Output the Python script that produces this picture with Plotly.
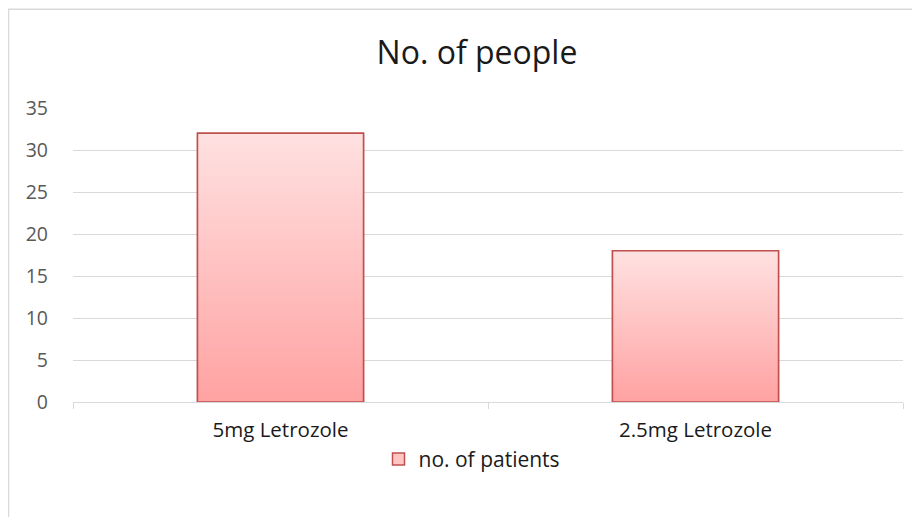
import plotly.graph_objects as go

categories = ["5mg Letrozole", "2.5mg Letrozole"]
values = [32, 18]
series_name = "no. of patients"
title_text = "No. of people"
y_ticks = [0, 5, 10, 15, 20, 25, 30, 35]

BAR_W = 0.4
FONT = "Open Sans"
# page body has an 8px margin; figure coords = page coords - 8
L, R_EDGE, TOP, BOT = 65, 895, 100, 394.5
PW, PH = R_EDGE - L, BOT - TOP

fig = go.Figure()
# bars (legend entry + base fill)
fig.add_trace(go.Bar(
    x=list(range(len(categories))), y=values, width=BAR_W,
    marker=dict(color="#ffc4c4", line=dict(color="#c0504d", width=1.5)),
    name=series_name, showlegend=True, hoverinfo="skip",
))
# gradient overlay for each bar
for i, v in enumerate(values):
    x0, x1 = i - BAR_W / 2, i + BAR_W / 2
    fig.add_trace(go.Scatter(
        x=[x0, x0, x1, x1, x0],
        y=[0, v, v, 0, 0],
        mode="lines",
        fill="toself",
        fillcolor="#ffc4c4",
        fillgradient=dict(type="vertical",
                          colorscale=[[0, "#ffa2a2"], [1, "#ffe1e1"]]),
        line=dict(color="#c0504d", width=1.5),
        showlegend=False,
        hoverinfo="skip",
    ))

fig.update_layout(
    width=920, height=517,
    margin=dict(l=L, r=920 - R_EDGE, t=TOP, b=517 - BOT),
    paper_bgcolor="white", plot_bgcolor="white",
    font=dict(family=FONT, size=19, color="#404040"),
    title=dict(text=title_text, x=(469 - L) / PW, xref="paper", xanchor="center",
               y=1 - 45 / 517, yref="container", yanchor="middle",
               font=dict(family=FONT, size=32, color="#1a1a1a")),
    showlegend=True,
    legend=dict(orientation="h", x=(464 - L) / PW, xanchor="center",
                y=(BOT - 452) / PH, yanchor="middle",
                font=dict(family=FONT, size=21, color="#1a1a1a")),
    xaxis=dict(
        range=[-0.5, len(categories) - 0.5],
        tickvals=list(range(len(categories))),
        ticktext=categories,
        ticks="",
        showgrid=False, zeroline=False,
        showline=True, linecolor="#d9d9d9", linewidth=1.3,
        tickfont=dict(family=FONT, size=20.5, color="#1a1a1a"),
        ticklabelstandoff=9,
        minor=dict(tickvals=[i - 0.5 for i in range(len(categories) + 1)],
                   ticks="outside", ticklen=6, tickcolor="#d9d9d9", tickwidth=1.3,
                   showgrid=False),
        fixedrange=True,
    ),
    yaxis=dict(
        range=[0, 35],
        tickvals=y_ticks,
        showgrid=True, gridcolor="#d9d9d9", gridwidth=1.3,
        zeroline=False, showline=False,
        ticks="",
        tickfont=dict(family=FONT, size=19.5, color="#595959"),
        ticklabelstandoff=24,
        fixedrange=True,
    ),
    shapes=[dict(type="rect", xref="paper", yref="paper",
                 x0=(0.5 - L) / PW, x1=(940 - L) / PW,
                 y0=(BOT - 540) / PH, y1=(BOT - 1) / PH,
                 line=dict(color="#d9d9d9", width=1.5), fillcolor="rgba(0,0,0,0)",
                 layer="below")],
)

fig.write_html("out.html")
